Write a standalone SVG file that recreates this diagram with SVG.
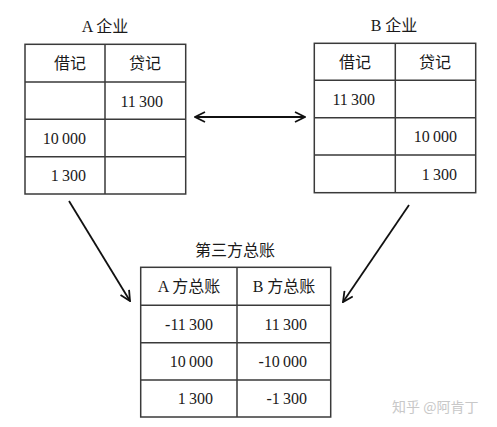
<svg xmlns="http://www.w3.org/2000/svg" width="497" height="427" viewBox="0 0 497 427">
<defs>
<style>
.grid{fill:none;stroke:#3a3a3a;stroke-width:1.5}
text{font-family:"Liberation Serif","Noto Sans CJK SC",serif;font-size:16px;fill:#1a1a1a}
.c{text-anchor:middle}
.r{text-anchor:end}
.conn{stroke:#111;stroke-width:1.8;fill:none}
.wm{font-family:"Noto Sans CJK SC",sans-serif;font-size:14px;fill:#c8c8c8}
</style>
<marker id="ah" viewBox="0 0 12 12" refX="11" refY="6" markerWidth="12" markerHeight="12" markerUnits="userSpaceOnUse" orient="auto-start-reverse">
<path d="M1,1 L11,6 L1,11" fill="none" stroke="#111" stroke-width="1.8"/>
</marker>
</defs>
<rect width="497" height="427" fill="#fff"/>
<g id="nodeA">
<text class="c" x="105" y="32">A 企业</text>
<rect class="grid" x="25" y="44.3" width="160.7" height="149.7"/>
<path class="grid" d="M105,44.3V194M25,82H185.7M25,119.3H185.7M25,156.7H185.7"/>
<text class="c" x="70" y="69">借记</text>
<text class="c" x="145" y="69">贷记</text>
<text class="r" x="163" y="107">11&#8201;300</text>
<text class="r" x="86" y="144">10&#8201;000</text>
<text class="r" x="86" y="181">1&#8201;300</text>
</g>
<g id="nodeB">
<text class="c" x="394" y="31">B 企业</text>
<rect class="grid" x="314.3" y="43.3" width="161.4" height="149.4"/>
<path class="grid" d="M395.3,43.3V192.7M314.3,80.3H475.7M314.3,117.7H475.7M314.3,155H475.7"/>
<text class="c" x="355" y="68">借记</text>
<text class="c" x="435" y="68">贷记</text>
<text class="r" x="375" y="105">11&#8201;300</text>
<text class="r" x="457" y="142">10&#8201;000</text>
<text class="r" x="457" y="180">1&#8201;300</text>
</g>
<g id="nodeC">
<text class="c" x="235" y="256">第三方总账</text>
<rect class="grid" x="140.7" y="267.3" width="190" height="149.7"/>
<path class="grid" d="M237,267.3V417M140.7,305.3H330.7M140.7,342.7H330.7M140.7,380H330.7"/>
<text class="c" x="189" y="292">A 方总账</text>
<text class="c" x="284" y="292">B 方总账</text>
<text class="r" x="213" y="330">-11&#8201;300</text>
<text class="r" x="307" y="330">11&#8201;300</text>
<text class="r" x="213" y="367">10&#8201;000</text>
<text class="r" x="307" y="367">-10&#8201;000</text>
<text class="r" x="213" y="404">1&#8201;300</text>
<text class="r" x="307" y="404">-1&#8201;300</text>
</g>
<g id="connectors">
<line class="conn" x1="195" y1="117" x2="305" y2="117" marker-start="url(#ah)" marker-end="url(#ah)"/>
<line class="conn" x1="69" y1="201" x2="130" y2="301" marker-end="url(#ah)"/>
<line class="conn" x1="409" y1="205" x2="343" y2="302" marker-end="url(#ah)"/>
</g>
<text class="wm" x="392" y="412">知乎 @阿肯丁</text>
</svg>
